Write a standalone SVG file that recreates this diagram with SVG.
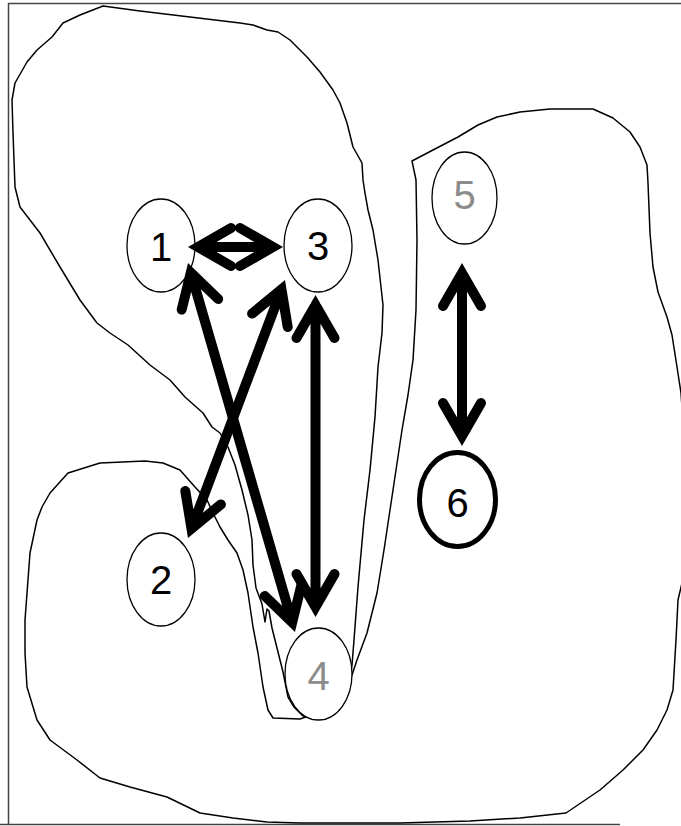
<svg xmlns="http://www.w3.org/2000/svg" width="681" height="826" viewBox="0 0 681 826">
<style>
.frame{fill:none;stroke:#444;stroke-width:1.5}
.region{fill:#fff;stroke:#000;stroke-width:1.5;stroke-linejoin:round}
.node{fill:#fff;stroke:#000;stroke-width:1.3}
.node.bold{stroke-width:5}
.lbl{font-family:"Liberation Sans",Arial,sans-serif;font-size:40px;text-anchor:middle;fill:#000}
.grey{fill:#8c8c8c}
.arr{fill:none;stroke:#000;stroke-width:10;stroke-linecap:round;stroke-linejoin:miter;stroke-miterlimit:6}
</style>
<rect width="681" height="826" fill="#fff"/>
<g id="frame">
<path class="frame" d="M8.5,3 V824.5 M8.5,3.5 H681 M0,824.5 H620"/>
</g>
<g id="regions">
<path id="regionU" class="region" d="M412,161 L433,150 L458,137 L478,125 L497,117 L520,112 L550,109 L593,109 L613,118 L630,132 L640,147 L647,165 L648,183 L650,233 L653,267 L658,292 L667,317 L672,335 L677,367 L681,393 L685,450 L686,520 L682,583 L678,600 L676,640 L673,690 L667,710 L657,730 L643,750 L623,770 L600,790 L566,813 L520,818 L470,821 L400,823 L300,823 L267,822 L233,818 L200,813 L167,797 L130,787 L100,778 L77,760 L50,740 L37,720 L27,687 L25,653 L25,620 L30,553 L37,520 L42,507 L50,493 L68,473 L100,463 L145,461 L163,463 L180,470 L195,487 L207,500 L213,513 L220,527 L228,540 L237,553 L243,570 L248,593 L253,627 L258,653 L263,687 L268,710 L273,718 L300,719 L320,712 L345,690 L352,675 L357,660 L367,633 L377,593 L384,550 L390,510 L396,470 L402,430 L408,395 L413,360 L416,310 L417,240 L416,180 Z"/>
<path id="regionA" class="region" d="M103,6 L140,11 L190,17 L240,23 L253,25 L267,30 L278,32 L290,40 L307,57 L320,72 L333,90 L340,103 L347,123 L353,147 L362,163 L363,180 L365,193 L368,210 L373,230 L378,260 L383,305 L382,333 L378,367 L375,417 L370,470 L364,520 L358,587 L354,640 L352,665 L345,700 L325,716 L303,716 L294,707 L288,697 L283,672 L277,648 L272,628 L269,611 L267,609 L265,622 L262,604 L256,588 L253,565 L252,540 L248,515 L242,490 L235,465 L228,447 L220,433 L212,427 L203,413 L185,397 L170,380 L150,365 L128,345 L110,333 L97,323 L80,300 L60,267 L40,233 L20,207 L15,187 L13,133 L12,100 L15,83 L27,62 L37,50 L52,37 L63,23 L80,15 Z"/>
</g>
<g id="node1"><ellipse class="node" cx="161" cy="245.5" rx="34" ry="46.5"/><text class="lbl" x="161" y="261">1</text></g>
<g id="node2"><ellipse class="node" cx="161" cy="579.5" rx="34" ry="46.5"/><text class="lbl" x="161" y="594">2</text></g>
<g id="node3"><ellipse class="node" cx="318" cy="245.5" rx="34" ry="46.5"/><text class="lbl" x="318" y="260">3</text></g>
<g id="node4"><ellipse class="node" cx="318.5" cy="674" rx="33.5" ry="46"/><text class="lbl grey" x="318.5" y="690">4</text></g>
<g id="node5"><ellipse class="node" cx="464.5" cy="198" rx="32.5" ry="46"/><text class="lbl grey" x="464.5" y="209">5</text></g>
<g id="node6"><ellipse class="node bold" cx="457.5" cy="499.5" rx="38" ry="47"/><text class="lbl" x="457.5" y="517">6</text></g>
<g id="connectors">
<path class="arr" d="M198,247 H273 M231,228 L198,247 L231,266 M240,228 L273,247 L240,266"/>
<path class="arr" d="M462,273 V436 M443,306 L462,273 L481,306 M443,403 L462,436 L481,403"/>
<path class="arr" d="M315.5,305 V607 M296.5,338 L315.5,305 L334.5,338 M296.5,574 L315.5,607 L334.5,574"/>
<path class="arr" d="M190.8,272.6 L292.2,622.4 M218.2,299 L190.8,272.6 L181.7,309.6 M301.3,585.4 L292.2,622.4 L264.8,596"/>
<path class="arr" d="M281.5,289.4 L191.5,528.6 M287.7,327 L281.5,289.4 L252.1,313.6 M220.9,504.4 L191.5,528.6 L185.3,491"/>
</g>
</svg>
